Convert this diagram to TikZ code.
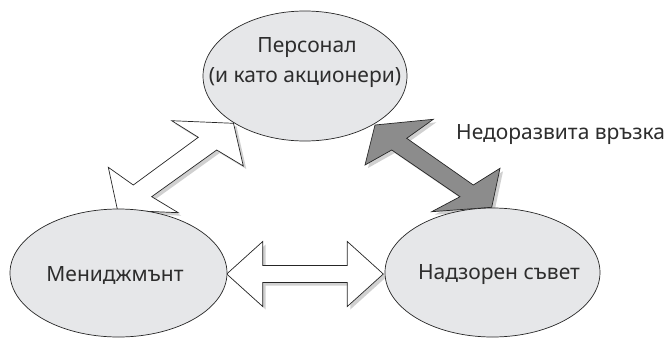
\documentclass[tikz,border=0pt]{standalone}
\usepackage{fontspec}
\setmainfont{Noto Sans}[Language=Bulgarian]
\usetikzlibrary{shapes.geometric}
\definecolor{ellfill}{RGB}{230,231,233}
\definecolor{arrgray}{RGB}{140,140,140}
\definecolor{shadowgray}{RGB}{208,208,208}
\definecolor{txt}{RGB}{45,45,45}
\newcommand\myULarrow{(233.5,123.3) -- (243.3,166) -- (216.7,150) -- (151.7,196.7) -- (178.3,212.7) -- (117.5,210) -- (108.3,167.3) -- (133.3,185) -- (198.3,137.3) -- (171.7,120.7) -- cycle}
\newcommand\myHarrow{(226.7,274) -- (262.7,241.5) -- (262.7,265.5) -- (347.3,265.5) -- (347.3,241.5) -- (383.3,274) -- (347.3,306.5) -- (347.3,282.5) -- (262.7,282.5) -- (262.7,306.5) -- cycle}
\newcommand\myGarrow{(375,125) -- (433.3,119.3) -- (406.7,138.3) -- (473.3,185) -- (500,168.3) -- (491.7,207.3) -- (431.7,211.7) -- (460,196.7) -- (391.7,150) -- (365,165) -- cycle}
\begin{document}
\begin{tikzpicture}[x=1pt,y=-1pt,
  ell/.style={ellipse, draw=black!85, line width=0.7pt, fill=ellfill, inner sep=0pt},
  blockarrow/.style={draw=black!85, line width=0.7pt, line join=miter},
  arrshadow/.style={fill=shadowgray, shift={(3,3)}},
  lbl/.style={text=txt, font=\fontsize{21}{25}\selectfont, inner sep=0pt}]
\useasboundingbox (0,0) rectangle (665,338);
% shadows
\fill[arrshadow] \myULarrow;
\fill[arrshadow] \myHarrow;
\fill[arrshadow] \myGarrow;
% block arrows
\filldraw[blockarrow, fill=white] \myULarrow;
\filldraw[blockarrow, fill=white] \myHarrow;
\filldraw[blockarrow, fill=arrgray] \myGarrow;
% ellipses
\node[ell, minimum width=204pt, minimum height=130pt] (staff) at (305,76) {};
\node[ell, minimum width=217pt, minimum height=128pt] (mgmt) at (118.5,273) {};
\node[ell, minimum width=215pt, minimum height=129pt] (board) at (492.5,272.5) {};
% texts
\node[lbl] (staffA) at (307,48) {Персонал};
\node[lbl] (staffB) at (305,78) {(и като акционери)};
\node[lbl] (mgmtT) at (115,275) {Мениджмънт};
\node[lbl] (boardT) at (499,275) {Надзорен съвет};
\node[lbl, anchor=west] (weak) at (456,135) {Недоразвита връзка};
\end{tikzpicture}
\end{document}
